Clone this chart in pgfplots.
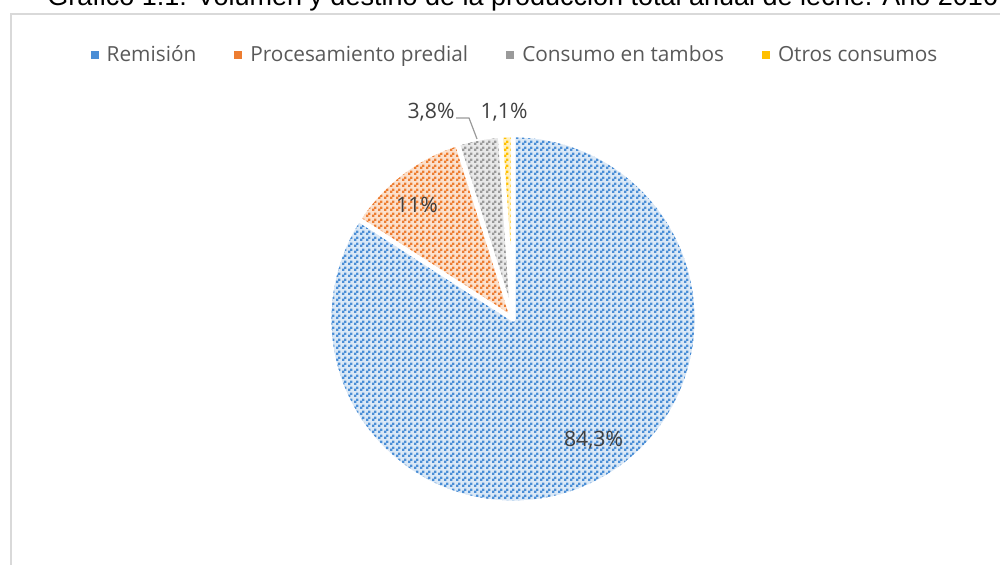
\documentclass[border=0pt]{standalone}
\usepackage{pgfplots}
\pgfplotsset{compat=1.18}
\usepackage{pgfplotstable}
\usepackage{fontspec}
\setmainfont{Open Sans}
\newfontfamily\titlefont{Liberation Sans}
\usetikzlibrary{patterns}

\definecolor{azul}{HTML}{4A8ED6}
\definecolor{azulC}{HTML}{DAE8F6}
\definecolor{naranja}{HTML}{ED7D31}
\definecolor{naranjaC}{HTML}{FBE0CC}
\definecolor{gris}{HTML}{9A9A9A}
\definecolor{grisC}{HTML}{E8E8E8}
\definecolor{amarillo}{HTML}{FFC000}
\definecolor{amarilloC}{HTML}{FFF0C0}
\definecolor{texto}{HTML}{404040}
\definecolor{leyenda}{HTML}{595959}
\definecolor{marco}{HTML}{D9D9D9}

% puntos en diagonal, como el relleno de Excel
\pgfdeclarepatternformonly{diagdots}{\pgfqpoint{-0.1pt}{-0.1pt}}{\pgfqpoint{3.1pt}{3.1pt}}{\pgfqpoint{3pt}{3pt}}{%
  \pgfpathrectangle{\pgfqpoint{0pt}{0pt}}{\pgfqpoint{1.15pt}{1.15pt}}%
  \pgfpathrectangle{\pgfqpoint{1pt}{1pt}}{\pgfqpoint{1.15pt}{1.15pt}}%
  \pgfusepath{fill}}

\pgfplotstableread{
destino value
Remision 84.3
Procesamiento 11
Consumo 3.8
Otros 1.1
}\pietable

\newcommand{\porcion}[4]{% start, end, dark, light
  \fill[#4] (axis cs:513,246) -- ++(#1:92pt) arc[start angle=#1, end angle=#2, radius=92pt] -- cycle;
  \fill[pattern=diagdots, pattern color=#3] (axis cs:513,246) -- ++(#1:92pt) arc[start angle=#1, end angle=#2, radius=92pt] -- cycle;
  \draw[white, line width=2.4pt, line join=round] (axis cs:513,246) -- ++(#1:92pt) arc[start angle=#1, end angle=#2, radius=92pt] -- cycle;
}

\begin{document}
\begin{tikzpicture}
\pgfplotstablegetelem{0}{value}\of\pietable \let\va\pgfplotsretval
\pgfplotstablegetelem{1}{value}\of\pietable \let\vb\pgfplotsretval
\pgfplotstablegetelem{2}{value}\of\pietable \let\vc\pgfplotsretval
\pgfplotstablegetelem{3}{value}\of\pietable \let\vd\pgfplotsretval
\pgfmathsetmacro\tot{\va+\vb+\vc+\vd}
\pgfmathsetmacro\aA{90}
\pgfmathsetmacro\aB{\aA-\va/\tot*360}
\pgfmathsetmacro\aC{\aB-\vb/\tot*360}
\pgfmathsetmacro\aD{\aC-\vc/\tot*360}
\pgfmathsetmacro\aE{\aD-\vd/\tot*360}
\begin{axis}[
    width=500pt, height=282.5pt,
    scale only axis,
    hide axis,
    clip=false,
    xmin=0, xmax=1000,
    ymin=0, ymax=565,
    legend columns=4,
    legend style={
        at={(axis cs:516,510)}, anchor=center,
        draw=none, fill=none,
        font=\fontsize{10.4}{12}\selectfont,
        text=leyenda,
        /tikz/every odd column/.append style={column sep=2pt},
        /tikz/every even column/.append style={column sep=17pt},
    },
    legend image code/.code={\fill[#1] (0pt,-2pt) rectangle (4pt,2pt);},
]
\addlegendimage{fill=azul, draw=none}
\addlegendentry{Remisión}
\addlegendimage{fill=naranja, draw=none}
\addlegendentry{Procesamiento predial}
\addlegendimage{fill=gris, draw=none}
\addlegendentry{Consumo en tambos}
\addlegendimage{fill=amarillo, draw=none}
\addlegendentry{Otros consumos}

% marco del gráfico
\draw[marco, line width=1pt] (axis cs:10.5,550.5) rectangle (axis cs:1015,-10);

% título (cortado arriba en el original)
\node[anchor=base west, inner sep=0pt, font=\titlefont\fontsize{13.5}{15}\selectfont]
    at (axis cs:47,559) {Gráfico 1.1: Volumen y destino de la producción total anual de leche. Año 2016};

\porcion{\aA}{\aB}{azul}{azulC}
\porcion{\aB}{\aC}{naranja}{naranjaC}
\porcion{\aC}{\aD}{gris}{grisC}
\porcion{\aD}{\aE}{amarillo}{amarilloC}

% etiquetas de datos
\draw[gris, line width=0.6pt] (axis cs:456,447) -- (axis cs:469,447) -- (axis cs:477,426);
\pgfkeys{/pgf/number format/.cd, use comma, assume math mode=true}
\begin{scope}[every node/.style={text=texto, font=\fontsize{10.6}{12}\selectfont, inner sep=0pt}]
\node at (axis cs:593.5,125) {\pgfmathprintnumber{\va}\%};
\node at (axis cs:417,360) {\pgfmathprintnumber{\vb}\%};
\node at (axis cs:431,453) {\pgfmathprintnumber{\vc}\%};
\node at (axis cs:504,453) {\pgfmathprintnumber{\vd}\%};
\end{scope}
\end{axis}
\pgfresetboundingbox
\path[use as bounding box] (0,0) rectangle (500pt,282.5pt);
\end{tikzpicture}
\end{document}
